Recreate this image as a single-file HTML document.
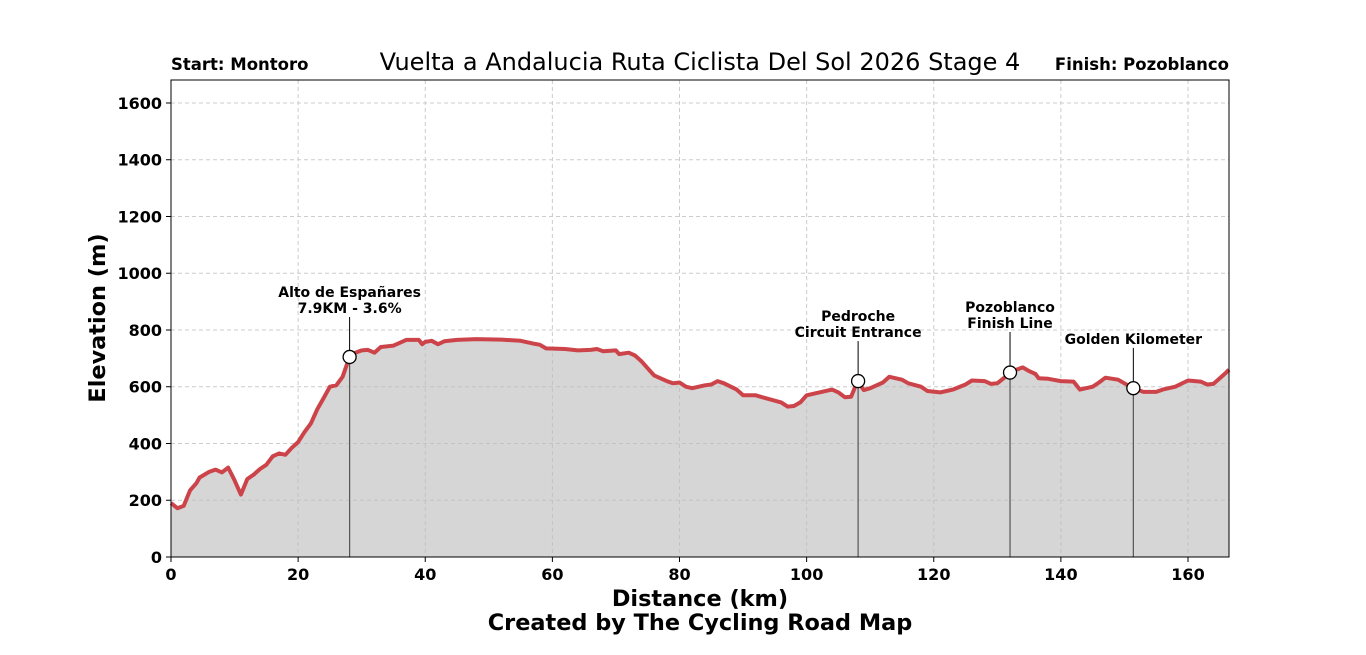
<!DOCTYPE html>
<html><head><meta charset="utf-8"><style>
html,body{margin:0;padding:0;background:#fff;}
svg{display:block;font-family:"DejaVu Sans","Liberation Sans",sans-serif;}
</style></head><body>
<svg id="chart" width="1366" height="655" viewBox="0 0 1366 655">
<text x="700" y="70" text-anchor="middle" font-size="24" fill="#000">Vuelta a Andalucia Ruta Ciclista Del Sol 2026 Stage 4</text>
<text x="171" y="70" font-size="16.5" font-weight="bold">Start: Montoro</text>
<text x="1229" y="70" text-anchor="end" font-size="16.5" font-weight="bold">Finish: Pozoblanco</text>
<g id="grid"></g>
<g id="plot"></g>
<g id="axes"></g>
<text x="700" y="606" text-anchor="middle" font-size="22.4" font-weight="bold">Distance (km)</text>
<text x="700" y="630" text-anchor="middle" font-size="22.4" font-weight="bold">Created by The Cycling Road Map</text>
<text transform="translate(105,318) rotate(-90)" text-anchor="middle" font-size="22.4" font-weight="bold">Elevation (m)</text>
</svg>
<script>
const distKm=[0,1,2,3,4,4.5,6,7,8,9,10,11,12,13,14,15,16,17,18,19,20,21,22,23,24,25,26,27,28,29,30,31,32,33,35,36,37,39,39.5,40,41,42,43,45,48,52,55,57,58,59,62,64,66,67,68,70,70.5,72,73,74,75,76,78,79,80,81,82,84,85,86,87,89,90,92,93,96,97,98,99,100,102,104,105,106,107,108,109,110,112,113,115,116,118,119,121,122,123,125,126,128,129,130,131,132,133,134,135,136,136.5,138,140,142,143,145,146,147,149,150,151.4,153,155,156,158,160,162,163,164,165,166,166.45];
const elevM=[190,172,180,235,260,280,300,308,298,315,270,220,275,290,310,325,355,365,360,385,405,440,470,520,560,600,605,635,700,720,728,730,720,740,745,755,765,765,750,758,762,750,760,765,768,766,762,752,748,735,733,728,730,733,725,728,715,720,710,690,665,640,620,612,615,600,595,605,608,620,612,590,570,570,563,545,530,532,545,570,580,590,580,563,565,620,588,595,615,635,625,612,600,585,580,585,590,608,622,620,610,612,630,650,660,668,655,645,630,628,620,618,590,600,615,632,625,612,595,582,582,590,600,622,618,608,610,630,650,660];
const xTicks=[0,20,40,60,80,100,120,140,160];
const yTicks=[0,200,400,600,800,1000,1200,1400,1600];
const markerKm=[28.1,108.1,132,151.4];
const markerElev=[705,620,650,595];
const markerLabels=[["Alto de Españares","7.9KM - 3.6%"],["Pedroche","Circuit Entrance"],["Pozoblanco","Finish Line"],["Golden Kilometer"]];
const markerLabelElev=[860,775,807,751];

const L=171,R=1229,T=80,B=557,xMax=166.45,yMax=1681;
const X=v=>L+(v/xMax)*(R-L);
const Y=v=>B-(v/yMax)*(B-T);
const NS="http://www.w3.org/2000/svg";
function mk(tag,attrs,parent){const e=document.createElementNS(NS,tag);for(const k in attrs)e.setAttribute(k,attrs[k]);parent.appendChild(e);return e;}
const grid=document.getElementById('grid'),plot=document.getElementById('plot'),axes=document.getElementById('axes');
xTicks.forEach(t=>{const l=mk('line',{x1:X(t),x2:X(t),y1:T,y2:B,stroke:'#ccc','stroke-dasharray':'4,3'},grid);

});
yTicks.forEach(t=>{const l=mk('line',{x1:L,x2:R,y1:Y(t),y2:Y(t),stroke:'#ccc','stroke-dasharray':'4,3'},grid);

});
let pts=distKm.map((d,i)=>X(d).toFixed(1)+','+Y(elevM[i]).toFixed(1));
const area=mk('path',{d:'M'+X(distKm[0])+','+B+' L'+pts.join(' L')+' L'+X(distKm[distKm.length-1])+','+B+' Z',fill:'#bdbdbd','fill-opacity':'0.62'},plot);


const line=mk('path',{d:'M'+pts.join(' L'),fill:'none',stroke:'#cc4449','stroke-width':4,'stroke-linejoin':'round'},plot);


markerKm.forEach((k,i)=>{
 const g=mk('g',{},plot);
 
 
 mk('line',{x1:X(k),x2:X(k),y1:Y(markerElev[i]),y2:B,stroke:'#555','stroke-width':1.2},g);
 const labs=markerLabels[i];
 const topY=Y(markerLabelElev[i]);
 mk('line',{x1:X(k),x2:X(k),y1:topY+4,y2:Y(markerElev[i]),stroke:'#000','stroke-width':1},g);
 labs.forEach((s,j)=>{const t=mk('text',{x:X(k),y:topY-(labs.length-1-j)*16,'text-anchor':'middle','font-size':14,'font-weight':'bold'},g);t.textContent=s;
 
 });
 mk('circle',{cx:X(k),cy:Y(markerElev[i]),r:6.5,fill:'#fff',stroke:'#000','stroke-width':1.3},g);
});
const frame=mk('rect',{x:L,y:T,width:R-L,height:B-T,fill:'none',stroke:'#000','stroke-width':1},axes);


xTicks.forEach(t=>{mk('line',{x1:X(t),x2:X(t),y1:B,y2:B+5,stroke:'#000'},axes);
 const tx=mk('text',{x:X(t),y:B+23,'text-anchor':'middle','font-size':16,'font-weight':'bold'},axes);tx.textContent=t;
 
 });
yTicks.forEach(t=>{mk('line',{x1:L-5,x2:L,y1:Y(t),y2:Y(t),stroke:'#000'},axes);
 const tx=mk('text',{x:L-9,y:Y(t)+6,'text-anchor':'end','font-size':16,'font-weight':'bold'},axes);tx.textContent=t;
 
 });
</script>
</body></html>
